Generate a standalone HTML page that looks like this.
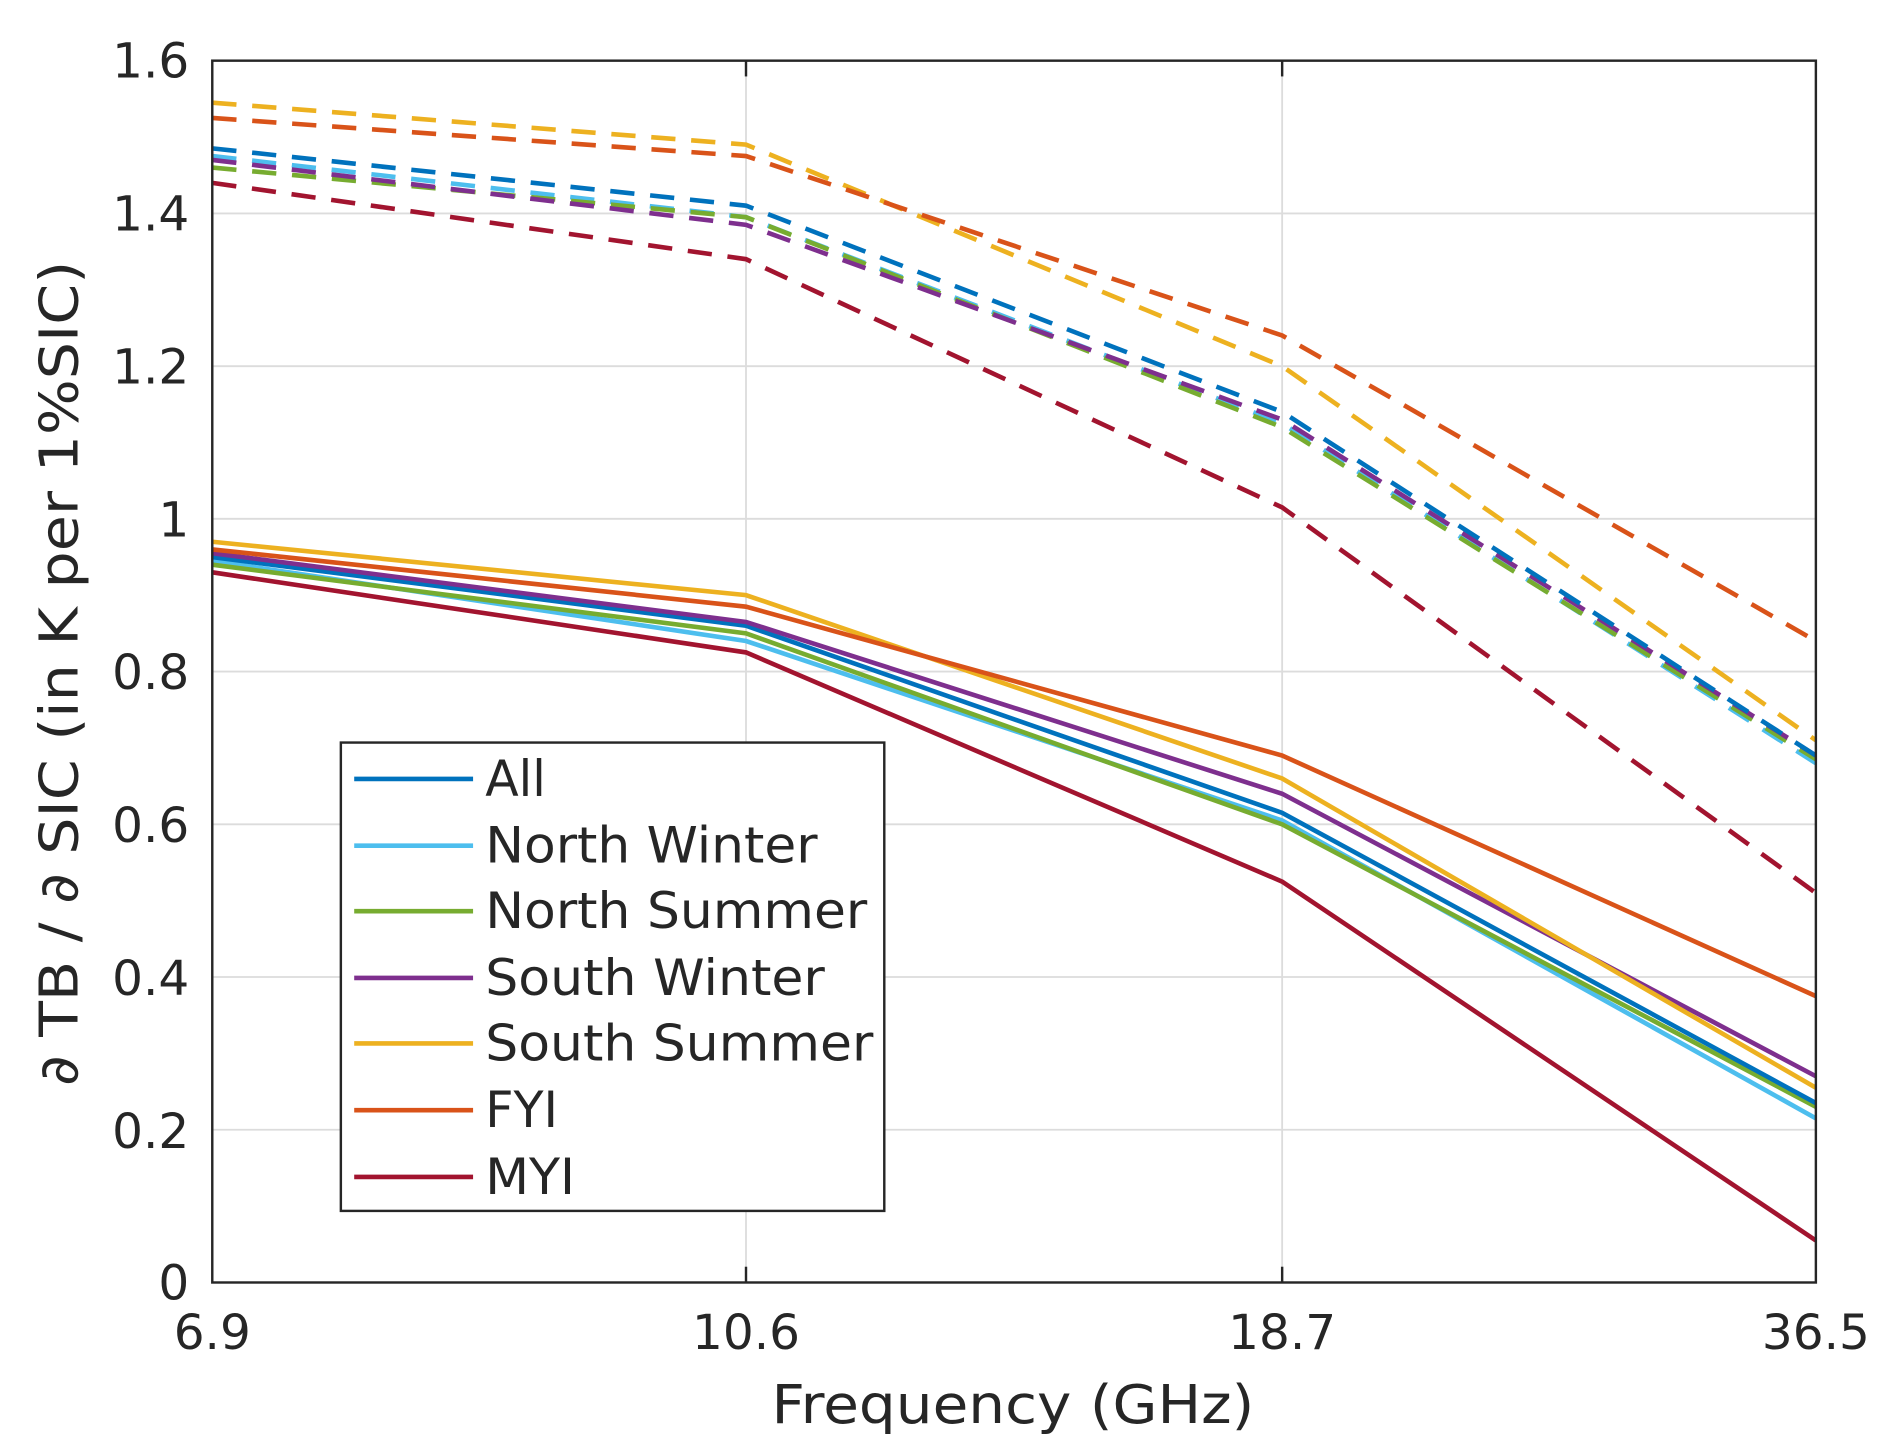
<!DOCTYPE html>
<html><head><meta charset="utf-8"><style>
html,body{margin:0;padding:0;background:#fff;}
svg{display:block;}
text{font-family:"DejaVu Sans","Liberation Sans",sans-serif;fill:#262626;}
</style></head><body>
<svg width="1902" height="1456" viewBox="0 0 1568 1200" preserveAspectRatio="none" xmlns="http://www.w3.org/2000/svg">
<rect width="1568" height="1200" fill="#fff"/>
<g stroke="#dcdcdc" stroke-width="1.5">
<line x1="175" y1="175.9" x2="1497" y2="175.9"/><line x1="175" y1="301.8" x2="1497" y2="301.8"/>
<line x1="175" y1="427.6" x2="1497" y2="427.6"/><line x1="175" y1="553.5" x2="1497" y2="553.5"/>
<line x1="175" y1="679.4" x2="1497" y2="679.4"/><line x1="175" y1="805.2" x2="1497" y2="805.2"/>
<line x1="175" y1="931.1" x2="1497" y2="931.1"/>
<line x1="615" y1="50" x2="615" y2="1057"/><line x1="1057" y1="50" x2="1057" y2="1057"/>
</g>
<g fill="none" stroke-width="3.8" stroke-dasharray="20,13">
<polyline stroke="#4DBEEE" points="175,128.6 615,179 1057,348.9 1497,629"/>
<polyline stroke="#77AC30" points="175,138.1 615,179 1057,352.1 1497,625.8"/>
<polyline stroke="#7E2F8E" points="175,131.8 615,185.3 1057,345.8 1497,622.7"/>
<polyline stroke="#0072BD" points="175,122.3 615,169.5 1057,339.5 1497,622.7"/>
<polyline stroke="#A2142F" points="175,150.7 615,213.6 1057,418.2 1497,736"/>
<polyline stroke="#EDB120" points="175,84.6 615,119.2 1057,301.8 1497,610.1"/>
<polyline stroke="#D95319" points="175,97.2 615,128.6 1057,276.5 1497,528.3"/>
</g>
<g fill="none" stroke-width="3.8">
<polyline stroke="#4DBEEE" points="175,462.2 615,528.3 1057,676.2 1497,921.7"/>
<polyline stroke="#77AC30" points="175,465.4 615,522 1057,679.4 1497,912.2"/>
<polyline stroke="#0072BD" points="175,459.1 615,515.7 1057,669.9 1497,909.1"/>
<polyline stroke="#7E2F8E" points="175,455.9 615,512.6 1057,654.2 1497,887"/>
<polyline stroke="#EDB120" points="175,446.5 615,490.5 1057,641.6 1497,896.5"/>
<polyline stroke="#D95319" points="175,452.8 615,500 1057,622.7 1497,821"/>
<polyline stroke="#A2142F" points="175,471.7 615,537.7 1057,726.6 1497,1022.4"/>
</g>
<rect x="175" y="50" width="1322" height="1007" fill="none" stroke="#262626" stroke-width="2"/>
<g stroke="#262626" stroke-width="2">
<line x1="615" y1="1057" x2="615" y2="1044"/><line x1="1057" y1="1057" x2="1057" y2="1044"/>
<line x1="615" y1="50" x2="615" y2="63"/><line x1="1057" y1="50" x2="1057" y2="63"/>
</g>
<g font-size="40" text-anchor="end">
<text x="156" y="64">1.6</text><text x="156" y="190">1.4</text><text x="156" y="316">1.2</text>
<text x="156" y="442">1</text><text x="156" y="568">0.8</text><text x="156" y="694">0.6</text>
<text x="156" y="820">0.4</text><text x="156" y="946">0.2</text><text x="156" y="1071">0</text>
</g>
<g font-size="40" text-anchor="middle">
<text x="175" y="1112">6.9</text><text x="615" y="1112">10.6</text>
<text x="1057" y="1112">18.7</text><text x="1497" y="1112">36.5</text>
<text x="835" y="1173" font-size="44" textLength="398" lengthAdjust="spacingAndGlyphs">Frequency (GHz)</text>
<text transform="translate(64,555) rotate(-90)" font-size="44" textLength="680" lengthAdjust="spacingAndGlyphs">∂ TB / ∂ SIC (in K per 1%SIC)</text>
</g>
<rect x="281" y="612" width="448" height="386" fill="#fff" stroke="#262626" stroke-width="2"/>
<g stroke-width="3.8">
<line x1="292" y1="642" x2="390" y2="642" stroke="#0072BD"/>
<line x1="292" y1="697" x2="390" y2="697" stroke="#4DBEEE"/>
<line x1="292" y1="751" x2="390" y2="751" stroke="#77AC30"/>
<line x1="292" y1="806" x2="390" y2="806" stroke="#7E2F8E"/>
<line x1="292" y1="860" x2="390" y2="860" stroke="#EDB120"/>
<line x1="292" y1="915" x2="390" y2="915" stroke="#D95319"/>
<line x1="292" y1="970" x2="390" y2="970" stroke="#A2142F"/>
</g>
<g font-size="41">
<text x="400" y="656" fill="#000" textLength="50" lengthAdjust="spacingAndGlyphs">All</text>
<text x="400" y="711" fill="#000" textLength="274" lengthAdjust="spacingAndGlyphs">North Winter</text>
<text x="400" y="765" fill="#000" textLength="315" lengthAdjust="spacingAndGlyphs">North Summer</text>
<text x="400" y="820" fill="#000" textLength="280" lengthAdjust="spacingAndGlyphs">South Winter</text>
<text x="400" y="874" fill="#000" textLength="320" lengthAdjust="spacingAndGlyphs">South Summer</text>
<text x="400" y="929" fill="#000" textLength="60" lengthAdjust="spacingAndGlyphs">FYI</text>
<text x="400" y="984" fill="#000" textLength="74" lengthAdjust="spacingAndGlyphs">MYI</text>
</g>
</svg>
</body></html>
